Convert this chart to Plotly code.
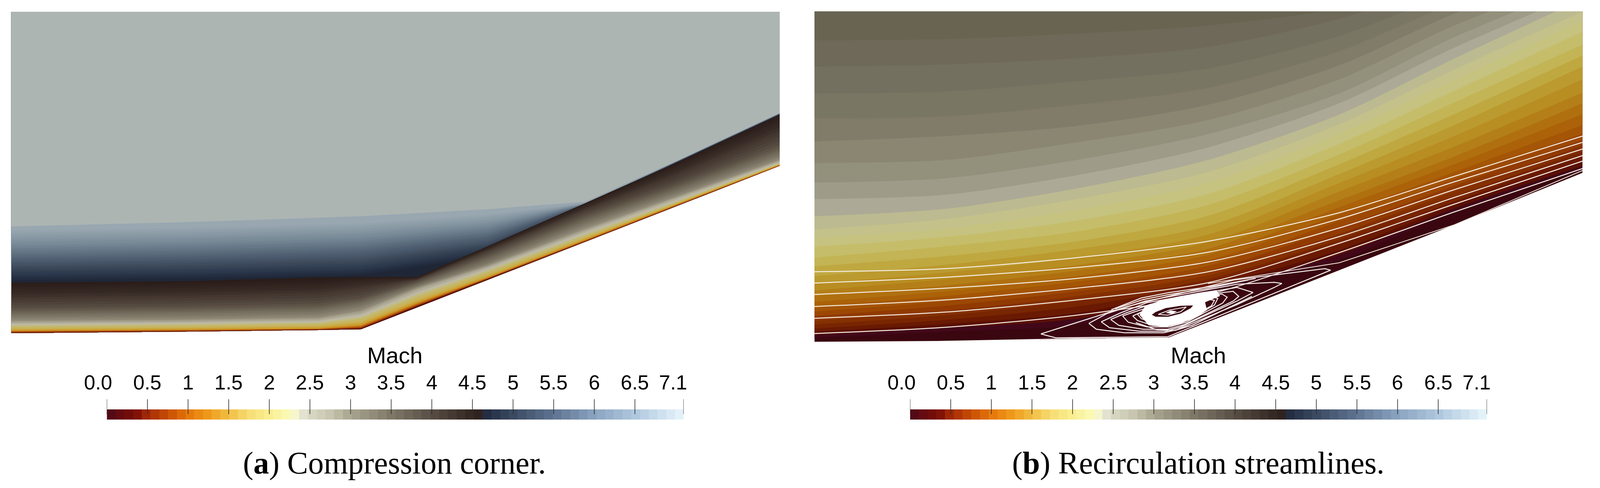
import plotly.graph_objects as go

W, H = 4252, 1248

# ---------- colour bar ----------
mach_ticks = [0, .5, 1, 1.5, 2, 2.5, 3, 3.5, 4, 4.5, 5, 5.5, 6, 6.5, 7.1]
mach_labels = ["0.0", "0.5", "1", "1.5", "2", "2.5", "3", "3.5", "4", "4.5", "5", "5.5", "6", "6.5", "7.1"]
mach_label_shift = [-22, 0, 0, 0, 0, 0, 0, 0, 0, 0, 0, 0, 0, 0, -27]
cmap_values = [0, .2, .35, .5, .75, 1, 1.25, 1.5, 1.75, 2, 2.25, 2.3, 2.35, 2.5, 2.75, 3, 3.5, 4, 4.5, 4.65, 4.66, 5, 5.5, 6, 6.5, 7.1]
cmap_colors = ["#4a0a1a", "#6b0a0e", "#7a0e06", "#a32a06", "#c74d04", "#e5780a", "#ee9a1c", "#f2be42", "#f7dd75", "#faef92",
               "#fbfab8", "#fafac8", "#ecebdc", "#d8d7c2", "#c8c6b0", "#a9a590", "#7f7868", "#574d44", "#332622", "#2a1f1f",
               "#222c40", "#3b4a61", "#5f7492", "#8aa3bf", "#afc7de", "#e8f6fc"]
bar_steps = 66

# ---------- panel (a): compression corner (image pixel coordinates) ----------
a_ramp_x = [30, 500, 850, 963, 1113, 1300, 1560, 1800, 2080]
a_wall = [852, 848, 844, 842, 786, 716, 619, 529, 424]
a_shock = [723, 719, 709, 708, 708, 630, 520, 418, 293]
a_ramp_lines = [  # from outer (dark brown) to the wall (dark red)
    (a_shock, "#2a1d1a"),
    ([728, 724, 715, 711, 709, 631, 522, 421, 297], "#2d201c"),
    ([733, 730, 722, 714, 710, 632, 524, 425, 303], "#30231f"),
    ([740, 736, 728, 718, 711, 634, 526, 430, 310], "#332722"),
    ([747, 743, 735, 723, 712, 636, 529, 435, 318], "#372a25"),
    ([753, 749, 741, 729, 713, 638, 532, 441, 326], "#3c302a"),
    ([760, 756, 748, 735, 714, 640, 535, 447, 335], "#43372f"),
    ([766, 762, 755, 741, 715, 642, 538, 453, 343], "#483c34"),
    ([773, 769, 762, 748, 716, 645, 542, 460, 352], "#4e433a"),
    ([780, 776, 769, 755, 718, 648, 546, 466, 361], "#554a40"),
    ([787, 783, 776, 762, 720, 652, 551, 472, 370], "#5c5246"),
    ([792, 788, 782, 766, 723, 656, 556, 477, 377], "#645b4d"),
    ([797, 793, 787, 770, 725, 660, 561, 482, 383], "#6c6455"),
    ([802, 798, 792, 775, 728, 665, 566, 487, 389], "#756e5e"),
    ([807, 803, 797, 780, 731, 670, 571, 492, 395], "#7d7666"),
    ([812, 809, 803, 785, 733, 674, 576, 497, 400], "#868070"),
    ([817, 814, 808, 790, 735, 677, 581, 501, 405], "#8f8976"),
    ([821, 818, 813, 795, 737, 680, 586, 505, 409], "#a29d8a"),
    ([825, 822, 817, 800, 741, 683, 590, 508, 412], "#b0ac98"),
    ([828, 825, 821, 805, 747, 687, 594, 512, 414], "#bdb9a5"),
    ([832, 829, 825, 811, 753, 692, 600, 517, 417], "#c3bb7a"),
    ([836, 833, 829, 816, 759, 697, 604, 520, 419], "#c6b562"),
    ([840, 837, 833, 822, 765, 702, 608, 522, 420], "#c9b050"),
    ([842, 839, 835, 825, 769, 705, 610, 523, 421], "#cba63c"),
    ([844, 841, 838, 829, 772, 708, 612, 524, 421], "#cc9a2a"),
    ([846, 843, 840, 832, 775, 710, 614, 525, 422], "#c47f1a"),
    ([847, 844, 841, 834, 777, 711, 615, 526, 422], "#c46a10"),
    ([848, 845, 842, 836, 779, 712, 616, 527, 423], "#a5480a"),
    ([849, 846, 842, 838, 781, 713, 617, 528, 423], "#8e3005"),
    ([851, 847, 843, 840, 783, 714, 618, 528, 424], "#4a0a15"),
]
a_blue_x = [30, 500, 963, 1300, 1560, 1800, 2080]
a_blue_lines = [  # painted from the dark layer up to the free stream
    ([760, 755, 760, 700, 600, 500, 400], "#1f2737"),
    ([717, 712, 703, 655, 537, 418, 293], "#232c3e"),
    ([712, 707, 697, 650, 535, 418, 293], "#263145"),
    ([706, 701, 691, 645, 532, 418, 293], "#2b374a"),
    ([701, 696, 686, 640, 530, 417, 292], "#2f3c50"),
    ([695, 690, 680, 635, 529, 417, 292], "#344255"),
    ([690, 685, 674, 630, 528, 417, 292], "#394759"),
    ([684, 679, 668, 626, 527, 417, 292], "#3f4d5f"),
    ([679, 673, 662, 622, 526, 417, 292], "#445365"),
    ([673, 667, 656, 617, 525, 416, 291], "#4a596b"),
    ([668, 662, 650, 612, 525, 416, 291], "#4f5f71"),
    ([662, 656, 644, 607, 524, 416, 291], "#556577"),
    ([657, 651, 638, 603, 524, 416, 291], "#5a6b7c"),
    ([651, 645, 632, 598, 524, 416, 291], "#607182"),
    ([646, 639, 627, 594, 523, 416, 291], "#667787"),
    ([640, 633, 621, 589, 523, 415, 290], "#6c7c8c"),
    ([635, 628, 616, 585, 522, 415, 290], "#718291"),
    ([629, 622, 610, 580, 522, 415, 290], "#778896"),
    ([624, 617, 605, 576, 522, 415, 290], "#7c8d9a"),
    ([618, 611, 599, 572, 521, 415, 290], "#81929e"),
    ([613, 606, 594, 568, 521, 415, 290], "#8696a2"),
    ([607, 600, 588, 563, 521, 414, 289], "#8b9ba6"),
    ([602, 595, 583, 559, 520, 414, 289], "#8f9fa9"),
    ([596, 589, 577, 554, 520, 414, 289], "#94a3ad"),
    ([590, 583, 572, 549, 519, 414, 289], "#98a7b0"),
    ([579, 568, 553, 535, 516, 414, 289], "#adb5b3"),
]

# ---------- panel (b): recirculation streamlines ----------
b_wall_x = [2173, 2500, 2873, 3118, 3573, 3880, 4222]
b_wall = [874, 872, 865, 863, 691, 575, 442]
b_x = [2173, 2523, 2873, 3223, 3573, 3880, 4222]
b_bands = [  # from the wall upward
    ([864, 848, 830, 744, 665, 540, 434], "#42081a"),
    ([856, 838, 815, 738, 652, 533, 424], "#5a1003"),
    ([848, 828, 800, 732, 640, 525, 412], "#6a1a02"),
    ([840, 818, 784, 724, 626, 515, 398], "#782501"),
    ([830, 806, 770, 714, 612, 503, 386], "#843001"),
    ([820, 795, 757, 704, 598, 490, 372], "#913a02"),
    ([808, 782, 745, 692, 582, 475, 358], "#9c4803"),
    ([797, 770, 733, 680, 565, 458, 342], "#a45505"),
    ([784, 757, 720, 666, 548, 440, 320], "#ab6208"),
    ([772, 745, 706, 652, 530, 420, 292], "#b07010"),
    ([757, 730, 692, 636, 512, 400, 264], "#b47f18"),
    ([743, 714, 678, 620, 490, 375, 237], "#b88d22"),
    ([726, 697, 659, 600, 468, 348, 203], "#bb9a2f"),
    ([706, 677, 637, 578, 445, 320, 170], "#bfa840"),
    ([681, 655, 617, 552, 420, 292, 142], "#c3b455"),
    ([659, 630, 592, 524, 395, 262, 114], "#c5bd6a"),
    ([631, 606, 564, 496, 368, 232, 81], "#c6c380"),
    ([609, 585, 537, 468, 342, 205, 52], "#c4c28a"),
    ([587, 560, 509, 440, 318, 178, 30], "#bcba90"),
    ([553, 534, 482, 409, 293, 150, -2], "#acaa96"),
    ([509, 498, 448, 377, 264, 122, -20], "#9e9c88"),
    ([467, 456, 409, 343, 239, 95, -40], "#93907c"),
    ([417, 409, 364, 307, 203, 65, -60], "#8a8672"),
    ([362, 348, 322, 268, 167, 35, -80], "#817c69"),
    ([303, 298, 268, 225, 131, 8, -100], "#7a7664"),
    ([239, 234, 208, 175, 92, -20, -120], "#747060"),
    ([170, 165, 149, 120, 48, -50, -140], "#6e6958"),
    ([103, 100, 86, 65, 20, -80, -160], "#696452"),
]
b_streamlines = [
    ([695, 687, 659, 617, 544, 451, 348]),
    ([724, 709, 684, 645, 560, 465, 364]),
    ([753, 737, 712, 670, 583, 485, 381]),
    ([784, 767, 737, 695, 605, 505, 398]),
    ([814, 798, 767, 723, 622, 522, 412]),
    ([853, 837, 806, 753, 646, 542, 431]),
]
b_attached_x = [3223, 3573, 3880, 4222]
b_attached_y = [725, 672, 575, 436]
b_floor_x = [2773, 2950]
b_floor_y = [869, 866]
b_loops = [
    ([2777, 2817, 3116, 3550, 3535, 3292, 3007, 2777], [854, 864, 861, 691, 687, 716, 784, 854]),
    ([2905, 2925, 3000, 3105, 3140, 3300, 3400, 3420, 3400, 3300, 3193, 3055, 2953, 2905],
     [827, 842, 851, 851, 843, 779, 735, 725, 722, 727, 746, 770, 802, 827]),
    ([2938, 2960, 3040, 3110, 3150, 3300, 3343, 3300, 3193, 3060, 2990, 2938],
     [823, 838, 847, 847, 836, 770, 748, 735, 752, 774, 800, 823]),
    ([2963, 2985, 3050, 3115, 3160, 3290, 3305, 3290, 3193, 3070, 3005, 2963],
     [817, 832, 842, 842, 830, 770, 758, 745, 756, 778, 800, 817]),
    ([2995, 3010, 3060, 3120, 3165, 3262, 3274, 3260, 3190, 3080, 3025, 2995],
     [808, 824, 836, 836, 824, 775, 760, 752, 759, 782, 798, 808]),
    ([3022, 3035, 3075, 3125, 3170, 3240, 3249, 3235, 3190, 3090, 3045, 3022],
     [808, 820, 832, 832, 818, 780, 763, 760, 762, 783, 798, 808]),
    ([3035, 3045, 3085, 3130, 3175, 3232, 3240, 3190, 3095, 3050, 3035],
     [804, 815, 828, 828, 812, 782, 768, 760, 778, 795, 804]),
    ([2975, 3050, 3120, 3220, 3330], [790, 766, 753, 738, 716]),
    ([2965, 3045, 3120, 3230, 3350], [792, 762, 748, 733, 712]),
    ([3030, 3085, 3135, 3180, 3340], [825, 843, 845, 832, 758]),
]
b_core_x = [3040, 3055, 3097, 3150, 3203, 3245, 3255, 3215, 3220, 3190, 3150, 3110, 3065, 3040]
b_core_y = [805, 783, 768, 757, 748, 742, 757, 773, 793, 812, 827, 836, 832, 805]
b_ring_x = [3073, 3083, 3110, 3150, 3183, 3177, 3150, 3117, 3083, 3073]
b_ring_y = [805, 798, 788, 782, 781, 788, 802, 810, 810, 805]
b_eye_x = [3110, 3123, 3140, 3127, 3110]
b_eye_y = [800, 794, 796, 803, 800]
b_inner_x = [3090, 3120, 3165, 3150, 3115, 3090]
b_inner_y = [804, 793, 785, 797, 806, 804]

fig = go.Figure()


def fx(a, b):
    return [a / W, b / W]


def fy(top, bottom):
    return [1 - bottom / H, 1 - top / H]


# panel (a)
for ys, col in a_blue_lines:
    fig.add_trace(go.Scatter(x=a_blue_x, y=ys, mode="lines", fill="tozeroy", fillcolor=col,
                             line=dict(width=0, color=col), xaxis="x", yaxis="y", hoverinfo="skip", showlegend=False))
for ys, col in a_ramp_lines:
    fig.add_trace(go.Scatter(x=a_ramp_x + a_ramp_x[::-1], y=list(ys) + a_wall[::-1], mode="lines", fill="toself", fillcolor=col,
                             line=dict(width=0, color=col), xaxis="x", yaxis="y", hoverinfo="skip", showlegend=False))

# panel (b)
DARK = "#3a0610"
fig.add_trace(go.Scatter(x=b_wall_x, y=b_wall, mode="lines", fill="tozeroy", fillcolor=DARK,
                         line=dict(width=0, color=DARK), xaxis="x2", yaxis="y2", hoverinfo="skip", showlegend=False))
for ys, col in b_bands:
    fig.add_trace(go.Scatter(x=b_x, y=ys, mode="lines", fill="tozeroy", fillcolor=col,
                             line=dict(width=0, color=col, shape="spline", smoothing=0.8),
                             xaxis="x2", yaxis="y2", hoverinfo="skip", showlegend=False))
SL = "#f4ece2"
for ys in b_streamlines:
    fig.add_trace(go.Scatter(x=b_x, y=ys, mode="lines", line=dict(width=2.5, color=SL, shape="spline", smoothing=0.8),
                             xaxis="x2", yaxis="y2", hoverinfo="skip", showlegend=False))
fig.add_trace(go.Scatter(x=b_attached_x, y=b_attached_y, mode="lines", line=dict(width=2, color=SL),
                         xaxis="x2", yaxis="y2", hoverinfo="skip", showlegend=False))
fig.add_trace(go.Scatter(x=b_floor_x, y=b_floor_y, mode="lines", line=dict(width=2, color="#e8d8d8"),
                         xaxis="x2", yaxis="y2", hoverinfo="skip", showlegend=False))
for lx, ly in b_loops:
    fig.add_trace(go.Scatter(x=lx, y=ly, mode="lines", line=dict(width=2.5, color="#f5eeee"),
                             xaxis="x2", yaxis="y2", hoverinfo="skip", showlegend=False))
for px_, py_, col in [(b_core_x, b_core_y, "#ffffff"), (b_ring_x, b_ring_y, DARK), (b_eye_x, b_eye_y, "#ffffff")]:
    fig.add_trace(go.Scatter(x=px_, y=py_, mode="lines", fill="toself", fillcolor=col, line=dict(width=0, color=col),
                             xaxis="x2", yaxis="y2", hoverinfo="skip", showlegend=False))
fig.add_trace(go.Scatter(x=b_inner_x, y=b_inner_y, mode="lines", line=dict(width=2, color="#ffffff"),
                         xaxis="x2", yaxis="y2", hoverinfo="skip", showlegend=False))

# colour bars
edges = [k * 7.1 / bar_steps for k in range(bar_steps + 1)]
centers = [(edges[k] + edges[k + 1]) / 2 for k in range(bar_steps)]
scale = [[v / 7.1, c] for v, c in zip(cmap_values, cmap_colors)]
for xa, ya in [("x3", "y3"), ("x4", "y4")]:
    fig.add_trace(go.Heatmap(x=edges, y=[0, 26], z=[centers], zmin=0, zmax=7.1, colorscale=scale, showscale=False,
                             xaxis=xa, yaxis=ya, hoverinfo="skip"))
    tx, ty = [], []
    for t in mach_ticks:
        tx += [t, t, None]
        ty += [14, 52, None]
    fig.add_trace(go.Scatter(x=tx, y=ty, mode="lines", line=dict(width=1.6, color="#2b2b2b"),
                             xaxis=xa, yaxis=ya, hoverinfo="skip", showlegend=False))

hidden = dict(visible=False, fixedrange=True)
layout = dict(
    height=H, autosize=True, margin=dict(l=0, r=0, t=0, b=0), paper_bgcolor="white", plot_bgcolor="white",
    showlegend=False,
    xaxis=dict(domain=fx(30, 2080), range=[30, 2080], **hidden),
    yaxis=dict(domain=fy(30, 852), range=[852, 30], **hidden),
    xaxis2=dict(domain=fx(2173, 4222), range=[2173, 4222], **hidden),
    yaxis2=dict(domain=fy(29, 874), range=[874, 29], **hidden),
    xaxis3=dict(domain=fx(285, 1824), range=[0, 7.1], **hidden),
    yaxis3=dict(domain=fy(1021, 1073), range=[0, 52], **hidden),
    xaxis4=dict(domain=fx(2428, 3967), range=[0, 7.1], **hidden),
    yaxis4=dict(domain=fy(1021, 1073), range=[0, 52], **hidden),
)
ann = []
SANS = "Liberation Sans"
SERIF = "Liberation Serif"
for xa in ["x3", "x4"]:
    for t, lab, sh in zip(mach_ticks, mach_labels, mach_label_shift):
        ann.append(dict(x=t, xref=xa, y=1 - 978 / H, yref="paper", text=lab, showarrow=False, xshift=sh,
                        xanchor="center", yanchor="middle", font=dict(family=SANS, size=52, color="black")))
for cx, cap, cy in [(1054, "Mach", 908), (3197, "Mach", 908)]:
    ann.append(dict(x=cx / W, xref="paper", y=1 - cy / H, yref="paper", text=cap, showarrow=False,
                    xanchor="center", yanchor="middle", font=dict(family=SANS, size=58, color="black")))
for cx, cap in [(1052, "(<b>a</b>) Compression corner."), (3197, "(<b>b</b>) Recirculation streamlines.")]:
    ann.append(dict(x=cx / W, xref="paper", y=1 - 1184 / H, yref="paper", text=cap, showarrow=False,
                    xanchor="center", yanchor="middle", font=dict(family=SERIF, size=80, color="black")))
layout["annotations"] = ann
fig.update_layout(**layout)
fig.write_html("out.html", post_script="document.body.style.margin='0';", config=dict(displayModeBar=False, responsive=True))
